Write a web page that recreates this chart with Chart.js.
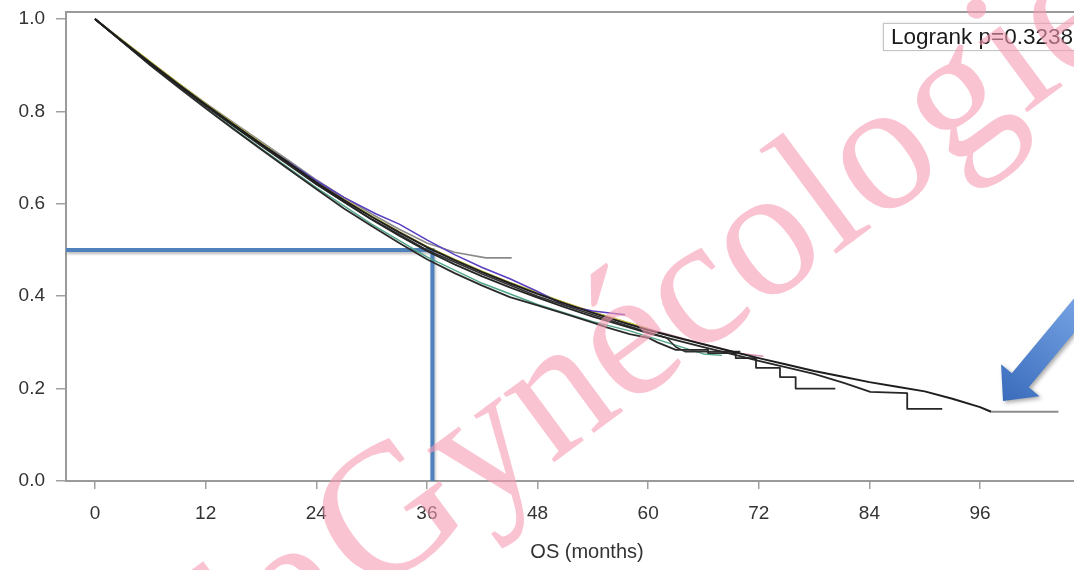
<!DOCTYPE html>
<html><head><meta charset="utf-8">
<script src="https://cdn.jsdelivr.net/npm/chart.js@4.4.1/dist/chart.umd.min.js"></script>
<style>html,body{margin:0;padding:0;background:#fff;overflow:hidden;width:1074px;height:570px}#wrap{width:1108px;height:570px;position:relative}</style>
</head><body><div id="wrap"><canvas id="c" width="1108" height="570"></canvas></div>
<script>
// ---- data ----
const xTicks = [0, 12, 24, 36, 48, 60, 72, 84, 96];
const yTicks = [0.0, 0.2, 0.4, 0.6, 0.8, 1.0];
const xTitle = 'OS (months)';
const logrankText = 'Logrank p=0.3238';
const medianOS = 36.6;
const medianSurv = 0.5;

const tA = [0,3,6,9,12,15,18,21,24,27,30,33,36,39,42,45,48,51,54,57,60,63,66,69,72,75,78,81,84,87,90,93,96,97.2,104.5];
const sA = [1.0,0.952,0.905,0.859,0.815,0.772,0.730,0.689,0.646,0.608,0.572,0.538,0.506,0.478,0.452,0.428,0.405,0.384,0.364,0.345,0.327,0.311,0.296,0.281,0.266,0.252,0.238,0.226,0.214,0.204,0.194,0.178,0.160,0.150,0.150];

const tB = [0,3,6,9,12,15,18,21,24,27,30,33,36,39,42,45,48,51,54,57,60,63,66,69,72,75,78,81.3,84.1,88.1,88.1,91.9];
const sB = [1.0,0.950,0.902,0.857,0.812,0.769,0.727,0.686,0.643,0.604,0.566,0.531,0.498,0.469,0.443,0.419,0.397,0.376,0.356,0.338,0.320,0.305,0.290,0.275,0.260,0.246,0.232,0.212,0.193,0.190,0.156,0.156];

const tC = [0,3,6,9,12,15,18,21,24,27,30,33,36,39,42,45,48,51,54,55.6,58,60,61,63,66.5,66.5,69.5,69.5,71.7,71.7,74.3,74.3,76,76,80.3];
const sC = [1.0,0.950,0.900,0.853,0.807,0.762,0.718,0.675,0.632,0.590,0.552,0.515,0.480,0.450,0.423,0.398,0.380,0.362,0.343,0.332,0.318,0.310,0.300,0.284,0.284,0.277,0.277,0.266,0.266,0.245,0.245,0.225,0.225,0.200,0.200];

const tD = [0,3,6,9,12,15,18,21,24,27,30,33,36,39,42.4,45.2];
const sD = [1.0,0.953,0.907,0.862,0.818,0.776,0.735,0.694,0.652,0.614,0.578,0.545,0.515,0.495,0.483,0.483];

const tE = [0,3,6,9,12,15,18,21,24,27,30.5,33,36,39,42,45,48,51,54,57.5];
const sE = [1.0,0.951,0.903,0.857,0.813,0.770,0.729,0.690,0.650,0.614,0.578,0.556,0.522,0.490,0.462,0.438,0.410,0.380,0.368,0.360];

const tF = [0,3,6,9,12,15,18,21,24,27,30,33,36,39,42,45,48,51,54,57,60];
const sF = [1.0,0.954,0.908,0.862,0.817,0.774,0.732,0.690,0.648,0.610,0.574,0.540,0.508,0.480,0.454,0.430,0.408,0.386,0.366,0.348,0.330];

const tG = [0,6,12,18,24,30,36,42,48,54,60,66,70,72.5];
const sG = [1.0,0.906,0.816,0.731,0.647,0.573,0.507,0.453,0.406,0.366,0.330,0.296,0.276,0.270];

const tH = [0,6,12,18,24,30,36,42,48,54,58,62,66,68];
const sH = [1.0,0.900,0.808,0.720,0.635,0.556,0.485,0.428,0.382,0.345,0.325,0.300,0.275,0.272];

const tJ = [0,6,12,18,24,30,36,42,48,54,60,62,63,64,70];
const sJ = [1.0,0.902,0.812,0.726,0.642,0.567,0.500,0.448,0.400,0.360,0.322,0.310,0.290,0.280,0.280];

// ---- helpers ----
const XMIN = -3.146, XMAX = 109.88, YMIN = 0, YMAX = 1.0152;
const pts = (t, s) => t.map((v, i) => ({x: v, y: s[i]}));
const curve = (t, s, color, w, order, extra) => Object.assign({
  data: pts(t, s), borderColor: color, borderWidth: w, pointRadius: 0,
  tension: 0, fill: false, order: order, borderJoinStyle: 'round'
}, extra || {});

const medianLine = {
  data: [{x: XMIN, y: medianSurv}, {x: medianOS, y: medianSurv}, {x: medianOS, y: YMIN}],
  borderColor: '#4f81bd', borderWidth: 4, pointRadius: 0, tension: 0, fill: false,
  order: 100, borderJoinStyle: 'miter', borderCapStyle: 'butt'
};
const MEDIAN_INDEX = 9;

const frame = {
  id: 'frame',
  beforeDatasetsDraw(chart) {
    const {ctx, chartArea: a} = chart;
    ctx.save();
    ctx.strokeStyle = '#9a9a9a'; ctx.lineWidth = 2;
    ctx.beginPath(); ctx.moveTo(a.left, a.top); ctx.lineTo(a.right, a.top); ctx.stroke();
    ctx.restore();
  },
  beforeDatasetDraw(chart, args) {
    if (args.index === MEDIAN_INDEX) {
      const ctx = chart.ctx; ctx.save();
      ctx.shadowColor = 'rgba(0,0,0,0.28)'; ctx.shadowBlur = 3; ctx.shadowOffsetX = 1; ctx.shadowOffsetY = 2;
    }
  },
  afterDatasetDraw(chart, args) {
    if (args.index === MEDIAN_INDEX) chart.ctx.restore();
  },
  afterDatasetsDraw(chart) {
    const {ctx} = chart;
    ctx.save();
    ctx.shadowColor = 'rgba(0,0,0,0.15)'; ctx.shadowBlur = 3;
    ctx.fillStyle = '#fff'; ctx.fillRect(883, 23, 230, 27);
    ctx.shadowColor = 'transparent';
    ctx.strokeStyle = '#c4c4c4'; ctx.lineWidth = 1;
    ctx.strokeRect(883.5, 23.5, 230, 27);
    ctx.fillStyle = '#1a1a1a'; ctx.font = '22.5px "Liberation Sans", Arial, sans-serif';
    ctx.textBaseline = 'middle'; ctx.textAlign = 'left';
    ctx.fillText(logrankText, 891, 37.5);
    ctx.restore();
  },
  afterDraw(chart) {
    const {ctx} = chart;
    // watermark
    ctx.save();
    ctx.translate(368, 600);
    ctx.rotate(-36.5 * Math.PI / 180);
    ctx.font = '186px "Liberation Serif", "Times New Roman", serif';
    ctx.fillStyle = 'rgba(247,155,180,0.6)';
    ctx.textBaseline = 'alphabetic';
    ctx.textAlign = 'left';
    ctx.fillText('Gynécologie', 0, 0);
    ctx.textAlign = 'right';
    ctx.fillText('de', -14, 0);
    ctx.restore();
    // arrow
    ctx.save();
    const T = {x: 1003, y: 401}, D = {x: 0.64, y: -0.77}, N = {x: 0.77, y: 0.64};
    const B = {x: T.x + 27 * D.x, y: T.y + 27 * D.y};
    const p = (o, a, b) => ({x: o.x + a * D.x + b * N.x, y: o.y + a * D.y + b * N.y});
    const poly = [T, p(B, 0, -25), p(B, 0, -11), p(B, 200, -11), p(B, 200, 11), p(B, 0, 11), p(B, 0, 25)];
    const g = ctx.createLinearGradient(1003, 401, 1080, 300);
    g.addColorStop(0, '#3a6cbc'); g.addColorStop(1, '#76a3e4');
    ctx.shadowColor = 'rgba(0,0,0,0.35)'; ctx.shadowBlur = 4; ctx.shadowOffsetX = 2; ctx.shadowOffsetY = 2;
    ctx.fillStyle = g;
    ctx.beginPath(); ctx.moveTo(poly[0].x, poly[0].y);
    for (let i = 1; i < poly.length; i++) ctx.lineTo(poly[i].x, poly[i].y);
    ctx.closePath(); ctx.fill();
    ctx.restore();
  }
};

Chart.defaults.font.family = '"Liberation Sans", Arial, sans-serif';
new Chart(document.getElementById('c'), {
  type: 'line',
  data: {
    datasets: [
      curve(tA, sA, '#1e1e1e', 2, 0, {segment: {borderColor: c => c.p0.parsed.x >= 97 ? '#8c8c8c' : undefined}}),
      curve(tB, sB, '#262626', 1.8, 1),
      curve(tC, sC, '#2a2a2a', 1.8, 2),
      curve(tJ, sJ, '#303030', 1.6, 3),
      curve(tE, sE, '#5a3fc0', 1.6, 4),
      curve(tF, sF, '#c8c840', 1.4, 5),
      curve(tG, sG, '#d890b0', 1.4, 6),
      curve(tH, sH, '#4fa58a', 1.4, 7),
      curve(tD, sD, '#8a8a8a', 1.6, 8),
      medianLine
    ]
  },
  options: {
    responsive: false, animation: false, devicePixelRatio: 1,
    layout: {padding: {top: 12, right: 0, left: 0, bottom: 0}},
    plugins: {legend: {display: false}, tooltip: {enabled: false}},
    scales: {
      x: {
        type: 'linear', min: XMIN, max: XMAX,
        afterBuildTicks: s => { s.ticks = xTicks.map(v => ({value: v})); },
        afterFit: s => { s.height = 89; s.paddingLeft = 0; s.paddingRight = 0; },
        border: {display: true, color: '#9a9a9a', width: 2},
        grid: {display: true, drawOnChartArea: false, drawTicks: true, tickLength: 8, color: '#a0a0a0', lineWidth: 1.5},
        ticks: {color: '#333', font: {size: 19}, padding: 13, autoSkip: false, maxRotation: 0},
        title: {display: true, text: xTitle, color: '#333', font: {size: 20}, padding: {top: 0, bottom: 6}}
      },
      y: {
        type: 'linear', min: YMIN, max: YMAX,
        afterBuildTicks: s => { s.ticks = yTicks.map(v => ({value: v})); },
        afterFit: s => { s.width = 66; s.paddingTop = 0; s.paddingBottom = 0; },
        border: {display: true, color: '#9a9a9a', width: 2},
        grid: {display: true, drawOnChartArea: false, drawTicks: true, tickLength: 10, color: '#a0a0a0', lineWidth: 1.5},
        ticks: {color: '#333', font: {size: 19}, padding: 11, callback: v => Number(v).toFixed(1)}
      }
    }
  },
  plugins: [frame]
});
</script></body></html>
